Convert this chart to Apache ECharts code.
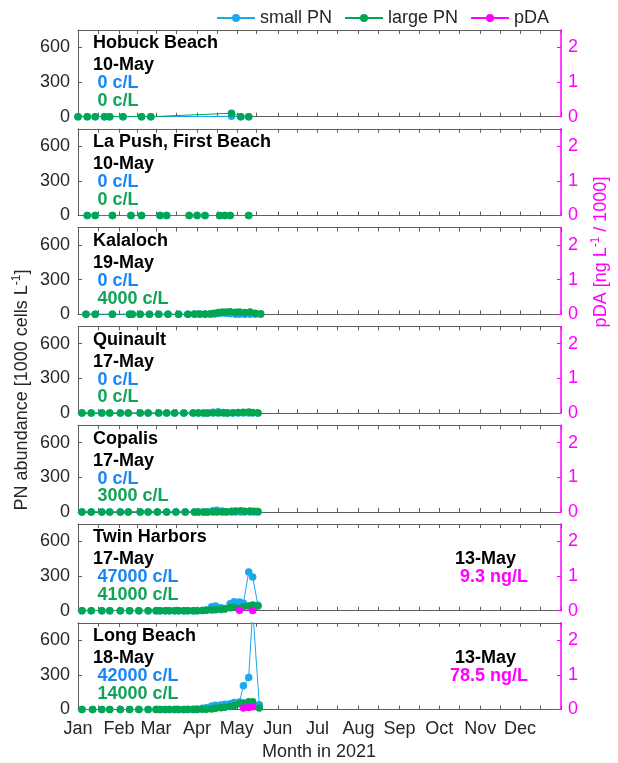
<!DOCTYPE html>
<html>
<head>
<meta charset="utf-8">
<script src="https://cdn.jsdelivr.net/npm/echarts@6/dist/echarts.min.js"></script>
<style>
  html, body { margin: 0; padding: 0; background: #fff; }
  #chart { width: 618px; height: 763px; }
</style>
</head>
<body>
<div id="chart"></div>
<script>
// axis ticks / labels (day of year, Jan 1 = 0)
const monthNames = ['Jan', 'Feb', 'Mar', 'Apr', 'May', 'Jun', 'Jul', 'Aug', 'Sep', 'Oct', 'Nov', 'Dec']
const monthStarts = [0, 31, 59, 90, 120, 151, 181, 212, 243, 273, 304, 334]
const tickDays = [0, 15, 31, 45, 59, 74, 90, 105, 120, 135, 151, 166, 181, 196, 212, 227, 243, 258, 273, 288, 304, 319, 334, 349, 365]
const pnTicks = [0, 300, 600]
const pdaTicks = [0, 1, 2]

// station text
const stationNames = ['Hobuck Beach', 'La Push, First Beach', 'Kalaloch', 'Quinault', 'Copalis', 'Twin Harbors', 'Long Beach']
const lastDates = ['10-May', '10-May', '19-May', '17-May', '17-May', '17-May', '18-May']
const smallLabels = ['0 c/L', '0 c/L', '0 c/L', '0 c/L', '0 c/L', '47000 c/L', '42000 c/L']
const largeLabels = ['0 c/L', '0 c/L', '4000 c/L', '0 c/L', '3000 c/L', '41000 c/L', '14000 c/L']

// Hobuck Beach
const hobuckDates = ['01-01', '01-08', '01-14', '01-21', '01-25', '02-04', '02-18', '02-25', '04-27', '05-04', '05-10']
const hobuckSmall = [0, 0, 0, 0, 0, 0, 0, 0, 3, 0, 0]
const hobuckLarge = [0, 0, 0, 0, 0, 0, 0, 0, 30, 0, 0]

// La Push, First Beach
const laPushDates = ['01-08', '01-14', '01-27', '02-10', '02-18', '03-04', '03-09', '03-26', '04-01', '04-07', '04-18', '04-22', '04-26', '05-10']
const laPushSmall = [0, 0, 0, 0, 0, 0, 0, 0, 0, 0, 0, 0, 0, 0]
const laPushLarge = [0, 0, 0, 0, 0, 0, 0, 0, 0, 0, 0, 0, 0, 0]

// Kalaloch
const kalalochDates = ['01-07', '01-14', '01-27', '02-09', '02-11', '02-17', '02-24', '03-03', '03-10', '03-18', '03-25', '03-30', '04-03',
  '04-07', '04-11', '04-14', '04-17', '04-20', '04-23', '04-26', '04-30', '05-03', '05-07', '05-11', '05-15', '05-19']
const kalalochSmall = [0, 0, 0, 0, 0, 0, 0, 0, 0, 0, 0, 0, 0, 0, 0, 2, 8, 12, 10, 5, 0, 0, 0, 0, 0, 0]
const kalalochLarge = [0, 0, 0, 0, 0, 0, 0, 0, 0, 0, 0, 2, 3, 3, 5, 10, 15, 20, 20, 22, 18, 20, 15, 20, 10, 4]

// Quinault
const quinaultDates = ['01-04', '01-11', '01-19', '01-25', '02-02', '02-08', '02-17', '02-23', '03-03', '03-09', '03-15', '03-22', '03-29',
  '04-02', '04-06', '04-09', '04-13', '04-17', '04-21', '04-24', '04-28', '05-02', '05-06', '05-10', '05-13', '05-17']
const quinaultSmall = [0, 0, 0, 0, 0, 0, 0, 0, 0, 0, 0, 0, 0, 0, 0, 0, 8, 12, 6, 0, 0, 0, 0, 0, 0, 0]
const quinaultLarge = [0, 0, 0, 0, 0, 0, 0, 0, 0, 0, 0, 0, 0, 0, 0, 0, 0, 0, 0, 0, 3, 5, 8, 10, 5, 0]

// Copalis
const copalisDates = ['01-04', '01-11', '01-19', '01-25', '02-02', '02-08', '02-17', '02-23', '03-02', '03-09', '03-16', '03-23', '03-30',
  '04-02', '04-06', '04-09', '04-13', '04-16', '04-20', '04-23', '04-27', '04-30', '05-04', '05-07', '05-11', '05-14', '05-17']
const copalisSmall = [0, 0, 0, 0, 0, 0, 0, 0, 0, 0, 0, 0, 0, 0, 0, 0, 10, 15, 8, 0, 0, 0, 0, 0, 0, 0, 0]
const copalisLarge = [0, 0, 0, 0, 0, 0, 0, 0, 0, 0, 0, 0, 0, 0, 0, 0, 0, 0, 0, 2, 5, 8, 10, 6, 8, 5, 3]

// Twin Harbors
const twinDates = ['01-04', '01-11', '01-19', '01-25', '02-02', '02-09', '02-16', '02-23',
  '03-01', '03-04', '03-08', '03-11', '03-15', '03-18', '03-22', '03-25', '03-29',
  '04-01', '04-05', '04-08', '04-12', '04-15', '04-19', '04-22', '04-26', '04-29',
  '05-03', '05-06', '05-10', '05-13', '05-17']
const twinSmall = [0, 0, 0, 0, 0, 0, 0, 0,
  0, 0, 0, 0, 0, 0, 0, 0, 0,
  0, 2, 5, 35, 40, 25, 20, 60, 77,
  75, 65, 335, 292, 47]
const twinLarge = [0, 0, 0, 0, 0, 0, 0, 0,
  0, 0, 0, 0, 0, 0, 0, 0, 0,
  0, 2, 3, 5, 8, 10, 15, 25, 30,
  20, 35, 40, 50, 41]
const twinPdaDates = ['05-03', '05-13']
const twinPda = [0.012, 0.0093]

// Long Beach
const longDates = ['01-04', '01-12', '01-19', '01-25', '02-02', '02-09', '02-16', '02-23',
  '03-01', '03-04', '03-08', '03-11', '03-15', '03-18', '03-22', '03-25', '03-29',
  '04-01', '04-05', '04-08', '04-12', '04-15', '04-19', '04-22', '04-26', '04-29',
  '05-03', '05-06', '05-10', '05-13', '05-18']
const longSmall = [0, 0, 0, 0, 0, 0, 0, 0,
  0, 0, 0, 0, 0, 0, 0, 2, 3,
  5, 10, 15, 30, 37, 40, 45, 50, 60,
  65, 206, 277, 870, 42]
const longLarge = [0, 0, 0, 0, 0, 0, 0, 0,
  0, 0, 0, 0, 0, 0, 0, 0, 0,
  0, 2, 3, 5, 10, 15, 20, 25, 35,
  50, 57, 66, 66, 14]
const longPdaDates = ['05-06', '05-10', '05-13']
const longPda = [0.04, 0.06, 0.0785]

const panels = [
  { dates: hobuckDates, small: hobuckSmall, large: hobuckLarge },
  { dates: laPushDates, small: laPushSmall, large: laPushLarge },
  { dates: kalalochDates, small: kalalochSmall, large: kalalochLarge },
  { dates: quinaultDates, small: quinaultSmall, large: quinaultLarge },
  { dates: copalisDates, small: copalisSmall, large: copalisLarge },
  { dates: twinDates, small: twinSmall, large: twinLarge, pdaDates: twinPdaDates, pda: twinPda, pdaDate: '13-May', pdaLabel: '9.3 ng/L', pdaX: 460 },
  { dates: longDates, small: longSmall, large: longLarge, pdaDates: longPdaDates, pda: longPda, pdaDate: '13-May', pdaLabel: '78.5 ng/L', pdaX: 450 }
]

const FONT = '"Liberation Sans", Arial, Helvetica, sans-serif'
const AXIS_GRAY = '#5e5e5e'
const TEXT_DARK = '#262626'
const SMALL_COLOR = '#19a9ef'
const LARGE_COLOR = '#00a651'
const PDA_COLOR = '#ff00ff'
const SMALL_TEXT = '#1686f5'
const LARGE_TEXT = '#0ea356'

const GRID_LEFT = 78
const GRID_RIGHT = 57
const GRID_TOP = 30
const GRID_STEP = 98.8
const GRID_H = 86.7

const doy = s => {
  const [m, d] = s.split('-').map(Number)
  return monthStarts[m - 1] + d - 1
}
const toPoints = (dates, vals) => dates.map((d, k) => [doy(d), vals[k]])

const chart = echarts.init(document.getElementById('chart'), null, { renderer: 'canvas' })

const grids = []
const xAxes = []
const yAxes = []
const series = []
const graphics = []

const boldText = (x, y, text, fill) => ({
  type: 'text', x, y, z: 50,
  style: { text, fill, fontSize: 18, fontWeight: 'bold', fontFamily: FONT, verticalAlign: 'middle' }
})

panels.forEach((p, i) => {
  const top = GRID_TOP + i * GRID_STEP
  grids.push({ left: GRID_LEFT, right: GRID_RIGHT, top, height: GRID_H })

  const xBase = {
    type: 'value', gridIndex: i, min: 0, max: 365,
    axisLine: { show: true, onZero: false, lineStyle: { color: AXIS_GRAY, width: 1 } },
    axisTick: { show: true, inside: true, length: 4, customValues: tickDays, lineStyle: { color: AXIS_GRAY } },
    splitLine: { show: false }
  }
  xAxes.push(Object.assign({}, xBase, {
    position: 'bottom',
    axisLabel: {
      show: i === panels.length - 1,
      customValues: monthStarts,
      formatter: v => monthNames[monthStarts.indexOf(v)],
      color: TEXT_DARK, fontSize: 18, fontFamily: FONT, margin: 11
    }
  }))
  xAxes.push(Object.assign({}, xBase, { position: 'top', axisLabel: { show: false } }))

  yAxes.push({
    type: 'value', gridIndex: i, min: 0, max: 750, position: 'left',
    axisLine: { show: true, onZero: false, lineStyle: { color: AXIS_GRAY, width: 1 } },
    axisTick: { show: true, inside: true, length: 4, customValues: pnTicks, lineStyle: { color: AXIS_GRAY } },
    axisLabel: { customValues: pnTicks, color: TEXT_DARK, fontSize: 18, fontFamily: FONT, margin: 8 },
    splitLine: { show: false }
  })
  yAxes.push({
    type: 'value', gridIndex: i, min: 0, max: 2.5, position: 'right',
    axisLine: { show: true, onZero: false, lineStyle: { color: PDA_COLOR, width: 1.5 } },
    axisTick: { show: true, inside: true, length: 4, customValues: pdaTicks, lineStyle: { color: PDA_COLOR } },
    axisLabel: { customValues: pdaTicks, color: PDA_COLOR, fontSize: 18, fontFamily: FONT, margin: 7 },
    splitLine: { show: false },
    z: 5
  })

  const lineBase = {
    type: 'line', xAxisIndex: 2 * i, symbol: 'circle', symbolSize: 7.5,
    showAllSymbol: true, clip: true, animation: false
  }
  series.push(Object.assign({}, lineBase, {
    name: 'small PN', yAxisIndex: 2 * i,
    itemStyle: { color: SMALL_COLOR }, lineStyle: { color: SMALL_COLOR, width: 1 },
    data: toPoints(p.dates, p.small)
  }))
  series.push(Object.assign({}, lineBase, {
    name: 'large PN', yAxisIndex: 2 * i,
    itemStyle: { color: LARGE_COLOR }, lineStyle: { color: LARGE_COLOR, width: 1 },
    data: toPoints(p.dates, p.large)
  }))
  if (p.pda) {
    series.push(Object.assign({}, lineBase, {
      name: 'pDA', yAxisIndex: 2 * i + 1,
      itemStyle: { color: PDA_COLOR }, lineStyle: { color: PDA_COLOR, width: 1 },
      data: toPoints(p.pdaDates, p.pda)
    }))
    graphics.push(boldText(455, top + 35.5, p.pdaDate, '#000'))
    graphics.push(boldText(p.pdaX, top + 53.5, p.pdaLabel, PDA_COLOR))
  }

  graphics.push(boldText(93, top + 13.5, stationNames[i], '#000'))
  graphics.push(boldText(93, top + 35.5, lastDates[i], '#000'))
  graphics.push(boldText(97.5, top + 53.5, smallLabels[i], SMALL_TEXT))
  graphics.push(boldText(97.5, top + 71, largeLabels[i], LARGE_TEXT))
})

// axis titles
graphics.push({
  type: 'text', x: 22, y: 390, rotation: Math.PI / 2,
  style: {
    text: '{a|PN abundance [1000 cells L}{s|-1}{a|]}',
    align: 'center', verticalAlign: 'middle',
    rich: {
      a: { fontSize: 18, fontFamily: FONT, fill: TEXT_DARK, lineHeight: 22 },
      s: { fontSize: 12, fontFamily: FONT, fill: TEXT_DARK, lineHeight: 12, verticalAlign: 'top' }
    }
  }
})
graphics.push({
  type: 'text', x: 601, y: 252, rotation: Math.PI / 2,
  style: {
    text: '{a|pDA [ng L}{s|-1}{a| / 1000]}',
    align: 'center', verticalAlign: 'middle',
    rich: {
      a: { fontSize: 18, fontFamily: FONT, fill: PDA_COLOR, lineHeight: 22 },
      s: { fontSize: 12, fontFamily: FONT, fill: PDA_COLOR, lineHeight: 12, verticalAlign: 'top' }
    }
  }
})
graphics.push({
  type: 'text', x: 319, y: 752,
  style: { text: 'Month in 2021', fill: TEXT_DARK, fontSize: 18, fontFamily: FONT, align: 'center', verticalAlign: 'middle' }
})

const option = {
  backgroundColor: '#fff',
  animation: false,
  legend: {
    data: ['small PN', 'large PN', 'pDA'],
    top: 4, left: 211,
    itemWidth: 38, itemHeight: 10, itemGap: 12,
    textStyle: { color: TEXT_DARK, fontSize: 18, fontFamily: FONT }
  },
  grid: grids,
  xAxis: xAxes,
  yAxis: yAxes,
  series,
  graphic: graphics
}
chart.setOption(option)
</script>
</body>
</html>
